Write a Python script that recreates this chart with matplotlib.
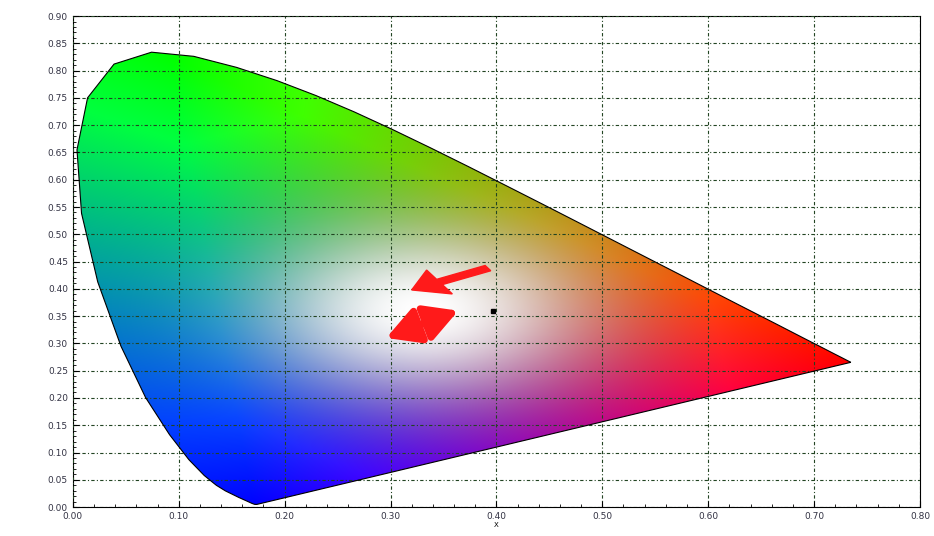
import numpy as np
from matplotlib import pyplot as plt
from matplotlib.path import Path
from matplotlib.patches import PathPatch, FancyArrow

# CIE 1931 spectral locus (x, y)
locus_x = [0.1741, 0.1738, 0.1733, 0.1726, 0.1714, 0.1689, 0.1644, 0.1566, 0.1440, 0.1355,
           0.1241, 0.1096, 0.0913, 0.0687, 0.0454, 0.0235, 0.0082, 0.0039, 0.0139, 0.0389,
           0.0743, 0.1142, 0.1547, 0.1929, 0.2296, 0.2658, 0.3016, 0.3373, 0.3731, 0.4087,
           0.4441, 0.4788, 0.5125, 0.5448, 0.5752, 0.6029, 0.6270, 0.6658, 0.6915, 0.7079,
           0.7190, 0.7260, 0.7300, 0.7334, 0.7347]
locus_y = [0.0050, 0.0049, 0.0048, 0.0048, 0.0051, 0.0069, 0.0109, 0.0177, 0.0297, 0.0399,
           0.0578, 0.0868, 0.1327, 0.2007, 0.2950, 0.4127, 0.5384, 0.6548, 0.7502, 0.8120,
           0.8338, 0.8262, 0.8059, 0.7816, 0.7543, 0.7243, 0.6923, 0.6589, 0.6245, 0.5896,
           0.5547, 0.5202, 0.4866, 0.4544, 0.4242, 0.3965, 0.3725, 0.3340, 0.3083, 0.2920,
           0.2809, 0.2740, 0.2700, 0.2666, 0.2653]

# colour anchors for the fill (red, green, blue corners and white point)
anchor_r = (0.73, 0.265)
anchor_g = (0.09, 0.83)
anchor_b = (0.17, 0.0)
white_pt = (0.33, 0.36)

# markers
black_pt = (0.397, 0.359)
purple_pt = (0.335, 0.334)
# arrows: (x_tail, y_tail, x_head, y_head)
arrow_single = (0.392, 0.438, 0.320, 0.398)
arrow_double = (0.296, 0.310, 0.364, 0.360)


def fill_colors(x, y):
    (x1, y1), (x2, y2), (x3, y3) = anchor_r, anchor_g, anchor_b
    det = (y2 - y3) * (x1 - x3) + (x3 - x2) * (y1 - y3)
    wr = ((y2 - y3) * (x - x3) + (x3 - x2) * (y - y3)) / det
    wg = ((y3 - y1) * (x - x3) + (x1 - x3) * (y - y3)) / det
    w = np.clip(np.stack([wr, wg, 1 - wr - wg], -1), 0, None)
    w = w / np.maximum(w.sum(-1, keepdims=True), 1e-6)
    base = np.clip(w * 1.25, 0, 1)
    r2 = (x - white_pt[0]) ** 2 + (y - white_pt[1]) ** 2
    f = np.exp(-r2 / 0.022)[..., None]
    return np.clip(base * (1 - f) + f, 0, 1)


fig = plt.figure(figsize=(9.34, 5.36), dpi=100)
ax = fig.add_axes([0.078, 0.054, 0.907, 0.916])

gx, gy = np.meshgrid(np.linspace(0, 0.8, 600), np.linspace(0, 0.9, 600))
im = ax.imshow(fill_colors(gx, gy), origin='lower', extent=(0, 0.8, 0, 0.9),
               aspect='auto', zorder=1, interpolation='bilinear')

verts = list(zip(locus_x, locus_y)) + [(locus_x[0], locus_y[0])]
patch = PathPatch(Path(verts), facecolor='none', edgecolor='black', lw=0.8, zorder=3)
ax.add_patch(patch)
im.set_clip_path(patch)

ax.set_xlim(0, 0.8)
ax.set_ylim(0, 0.9)
ax.set_xticks(np.arange(0, 0.81, 0.1))
ax.set_yticks(np.arange(0, 0.91, 0.05))
ax.set_xticks(np.arange(0, 0.81, 0.02), minor=True)
ax.set_yticks(np.arange(0, 0.91, 0.01), minor=True)
ax.set_xticklabels(['%.2f' % v for v in np.arange(0, 0.81, 0.1)])
ax.set_yticklabels(['%.2f' % v for v in np.arange(0, 0.91, 0.05)])
ax.tick_params(labelsize=6.5, labelcolor='#333344', direction='in', length=4)
ax.tick_params(which='minor', direction='in', length=2)
ax.grid(True, which='major', color='#224422', ls=(0, (3, 2, 1, 2)), lw=0.8, zorder=2)
ax.set_axisbelow(False)
ax.set_xlabel('X', fontsize=5, labelpad=1)
ax.set_ylabel('Y', fontsize=5, labelpad=40, rotation=0, va='center')

ax.plot(*black_pt, 's', color='black', ms=3.5, zorder=5)
ax.plot(*purple_pt, 's', color='#402060', ms=3, zorder=5)

x0, y0, x1, y1 = arrow_single
ax.add_patch(FancyArrow(x0, y0, x1 - x0, y1 - y0, width=0.011, head_width=0.05,
                        head_length=0.03, length_includes_head=True,
                        color='#ff1a1a', zorder=6))
x0, y0, x1, y1 = arrow_double
ax.annotate('', xy=(x1, y1), xytext=(x0, y0), zorder=6,
            arrowprops=dict(arrowstyle='<|-|>,head_length=2.0,head_width=1.1',
                            color='#ff1a1a', lw=5, shrinkA=0, shrinkB=0))

fig.savefig('out.png')
